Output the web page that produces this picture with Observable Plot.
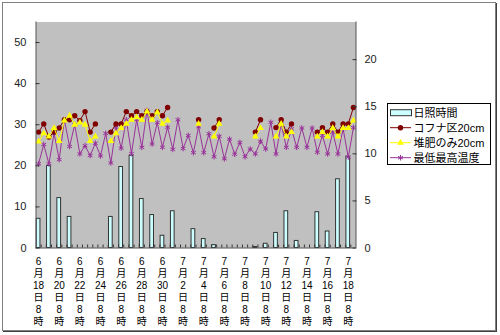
<!DOCTYPE html>
<html><head><meta charset="utf-8">
<script src="https://cdn.jsdelivr.net/npm/d3@7"></script>
<script src="https://cdn.jsdelivr.net/npm/@observablehq/plot@0.6"></script>
<style>
body{margin:0;background:#fff;}
#wrap{position:relative;width:500px;height:335px;overflow:hidden;}
#border{position:absolute;left:2px;top:2px;width:492px;height:327px;border:1px solid #808080;box-shadow:1px 1px 0 #404040;pointer-events:none;}
</style></head><body><div id="wrap"><div id="chart"></div><div id="border"></div></div>
<script>
const FONT = "'Liberation Sans', Arial, 'Noto Sans CJK JP', sans-serif";

// x tick labels (every 4th half-day slot, 8時 readings)
const tickLabels = ["6月18日8時","6月20日8時","6月22日8時","6月24日8時","6月26日8時","6月28日8時","6月30日8時",
  "7月2日8時","7月4日8時","7月6日8時","7月8日8時","7月10日8時","7月12日8時","7月14日8時","7月16日8時","7月18日8時"];

const seriesNames = ["日照時間","コフナ区20cm","堆肥のみ20cm","最低最高温度"];

// 日照時間 (right axis, hours) — one value per day at the 8時 slot
const sunshine = [3.1,null,8.7,null,5.3,null,3.3,null,0,null,0,null,0,null,3.3,null,8.6,null,9.8,null,
  5.2,null,3.5,null,1.3,null,3.9,null,0,null,2.0,null,0.95,null,0.3,null,0,null,0,null,
  0,null,0.1,null,0.45,null,1.6,null,3.9,null,0.75,null,0,null,3.8,null,1.75,null,7.3,null,9.7,null];

// 最低最高温度 (left axis, °C)
const temp = [20.5,25.2,20.5,27.9,21.5,31.2,24.7,30.0,22.9,24.9,
  22.5,25.5,22.4,27.9,20.7,29.4,24.3,31.2,23.0,31.2,
  24.5,33.5,25.3,30.5,24.5,29.4,24.0,31.2,24.2,27.4,
  23.2,29.5,23.2,27.8,22.2,27.2,21.7,26.5,22.8,25.7,
  22.2,24.1,22.9,26.0,24.1,30.6,22.9,30.2,24.5,29.0,
  24.5,29.2,24.5,29.2,23.3,27.4,22.9,28.2,22.9,29.0,
  22.1,29.3];

// コフナ区20cm
const kofuna = [28.2,30.2,27.0,28.2,29.2,31.2,31.2,32.2,31.0,33.2,
  28.2,30.2,null,null,28.2,30.2,30.2,33.2,32.2,33.2,
  32.2,33.2,32.2,33.2,32.2,34.2,null,null,null,null,
  null,31.2,null,null,29.2,31.2,null,null,null,null,
  null,null,28.2,31.2,null,null,29.3,31.2,28.2,30.2,
  null,null,null,null,28.2,29.3,28.2,30.2,28.2,30.2,
  30.2,34.2];

// 堆肥のみ20cm
const compost = [25.9,27.9,27.1,29.2,26.0,31.0,32.2,30.0,30.5,30.0,
  26.0,27.1,null,null,26.0,27.9,29.2,30.2,31.2,31.8,
  31.2,33.2,31.2,33.0,30.2,31.0,null,null,null,null,
  null,30.2,null,null,27.1,30.2,null,null,null,null,
  null,null,27.1,29.2,null,null,27.1,30.2,27.1,28.2,
  null,null,null,null,27.1,28.2,27.1,29.2,27.1,29.2,
  29.2,31.0];

const leftTicks = [0,10,20,30,40,50];
const rightTicks = [0,5,10,15,20];
const Y_MAX = 55, Y2_MAX = 24;
const k = Y_MAX / Y2_MAX;

const C_BAR = "#ccffff", C_RED = "#800000", C_YEL = "#ffff00", C_PUR = "#993399", C_AX = "#555";

const n = temp.length;
const idx = d3.range(n);
const vertical = s => s.match(/\d+|\D/g).join("\n");

const chart = Plot.plot({
  width: 500, height: 335,
  marginLeft: 35.5, marginRight: 144.5, marginTop: 21.5, marginBottom: 87.5,
  style: {fontFamily: FONT, fontSize: "11px", color: "#000", background: "transparent", overflow: "visible"},
  x: {domain: [-0.5, n - 0.5]},
  y: {domain: [0, Y_MAX]},
  marks: [
    Plot.frame({fill: "#c0c0c0"}),
    Plot.rectY(idx.filter(i => sunshine[i] != null && sunshine[i] > 0), {
      x1: i => i - 0.36, x2: i => i + 0.36, y1: 0, y2: i => sunshine[i] * k,
      fill: C_BAR, stroke: "#333", strokeWidth: 1
    }),
    Plot.line(idx, {x: i => i, y: i => temp[i], stroke: C_PUR, strokeWidth: 1}),
    Plot.dot(idx, {x: i => i, y: i => temp[i], symbol: "asterisk", r: 2.6, stroke: C_PUR, strokeWidth: 1}),
    Plot.line(idx, {x: i => i, y: i => kofuna[i], stroke: C_RED, strokeWidth: 1}),
    Plot.dot(idx, {x: i => i, y: i => kofuna[i], symbol: "circle", r: 2.7, fill: C_RED, stroke: "none"}),
    Plot.line(idx, {x: i => i, y: i => compost[i], stroke: C_YEL, strokeWidth: 1}),
    Plot.dot(idx, {x: i => i, y: i => compost[i], symbol: "triangle", r: 2.5, fill: C_YEL, stroke: "none"}),
    // category boundary ticks (inside)
    Plot.ruleX(d3.range(n - 1).map(i => i + 0.5), {y1: 0, y2: 3 / (226 / Y_MAX), stroke: "#333"}),
    // axis lines
    Plot.ruleY([0], {stroke: C_AX}),
    Plot.ruleX([-0.5], {stroke: C_AX}),
    Plot.ruleX([n - 0.5], {stroke: C_AX}),
    Plot.axisY(leftTicks, {anchor: "left", tickSize: -4, tickPadding: 13.5, stroke: "#333", fontSize: 11, fill: "#222"}),
    Plot.axisY(rightTicks.map(v => v * k), {anchor: "right", tickSize: -4, tickPadding: 12.5,
      tickFormat: v => String(Math.round(v / k)), stroke: "#333", fontSize: 11, fill: "#222"}),
    Plot.axisX(tickLabels.map((_, j) => j * 4), {anchor: "bottom", tickSize: 0, tickPadding: 8,
      tickFormat: v => vertical(tickLabels[v / 4]), fontSize: 10, lineHeight: 1.2, fill: "#000"})
  ]
});
document.getElementById("chart").appendChild(chart);

// Legend
const svg = d3.select(chart);
const lg = svg.append("g").attr("font-family", FONT).attr("font-size", 11).attr("text-anchor", "start");
lg.append("rect").attr("x", 387.5).attr("y", 103.5).attr("width", 103).attr("height", 61)
  .attr("fill", "#fff").attr("stroke", "#000");
const rowY = [112.7, 127.7, 142.7, 157.7];
const sym = (type, r) => d3.symbol(type, r * r * Math.PI)();
// bar swatch
lg.append("rect").attr("x", 390.5).attr("y", rowY[0] - 3).attr("width", 21).attr("height", 6)
  .attr("fill", C_BAR).attr("stroke", "#333");
const lineItems = [
  {c: C_RED, s: d3.symbolCircle, r: 2.7, fill: true},
  {c: C_YEL, s: d3.symbolTriangle, r: 2.5, fill: true},
  {c: C_PUR, s: d3.symbolAsterisk, r: 2.6, fill: false}
];
lineItems.forEach((it, j) => {
  const y = rowY[j + 1];
  lg.append("line").attr("x1", 390).attr("x2", 411).attr("y1", y).attr("y2", y).attr("stroke", it.c);
  lg.append("path").attr("d", sym(it.s, it.r)).attr("transform", `translate(400.5,${y})`)
    .attr("fill", it.fill ? it.c : "none").attr("stroke", it.fill ? "none" : it.c);
});
seriesNames.forEach((name, j) => {
  lg.append("text").attr("x", 413.5).attr("y", rowY[j]).attr("dy", "0.36em")
    .attr("text-anchor", "start").attr("fill", "#000").text(name);
});
</script>
</body></html>
